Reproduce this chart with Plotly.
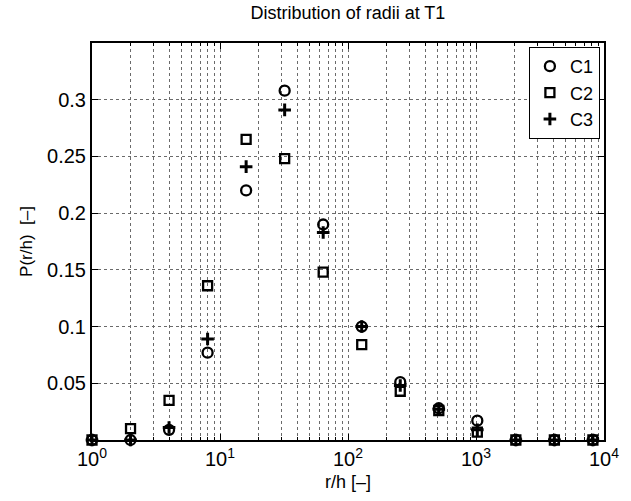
import plotly.graph_objects as go

r_h = [1, 2, 4, 8, 16, 32, 64, 128, 256, 512, 1024, 2048, 4096, 8192]
c1 = [0, 0, 0.009, 0.077, 0.220, 0.308, 0.190, 0.100, 0.051, 0.028, 0.017, 0, 0, 0]
c2 = [0, 0.010, 0.035, 0.136, 0.265, 0.248, 0.148, 0.084, 0.043, 0.026, 0.007, 0, 0, 0]
c3 = [0, 0, 0.011, 0.089, 0.241, 0.291, 0.183, 0.100, 0.048, 0.027, 0.009, 0, 0, 0]

x_tickvals = [1, 10, 100, 1000, 10000]
x_ticktext = ["10<sup>0</sup>", "10<sup>1</sup>", "10<sup>2</sup>", "10<sup>3</sup>", "10<sup>4</sup>"]
x_minorvals = [m * d for d in [1, 10, 100, 1000] for m in range(2, 10)]
y_tickvals = [0.05, 0.1, 0.15, 0.2, 0.25, 0.3]
y_ticktext = ["0.05", "0.1", "0.15", "0.2", "0.25", "0.3"]

FONT = "Liberation Sans, Arial, Helvetica, sans-serif"

fig = go.Figure()
fig.add_trace(go.Scatter(x=r_h, y=c1, mode="markers", name="C1", cliponaxis=False,
                         marker=dict(symbol="circle-open", size=10, color="black",
                                     line=dict(width=2.3, color="black"))))
fig.add_trace(go.Scatter(x=r_h, y=c2, mode="markers", name="C2", cliponaxis=False,
                         marker=dict(symbol="square-open", size=9, color="black",
                                     line=dict(width=2.3, color="black"))))
fig.add_trace(go.Scatter(x=r_h, y=c3, mode="markers", name="C3", cliponaxis=False,
                         marker=dict(symbol="cross-thin-open", size=9, color="black",
                                     line=dict(width=3, color="black"))))

fig.update_layout(
    width=631, height=501,
    margin=dict(l=92, r=26, t=43, b=59),
    paper_bgcolor="white", plot_bgcolor="white",
    font=dict(family=FONT, color="black", size=20),
    title=dict(text="Distribution of radii at T1", xref="paper", x=0.5, xanchor="center",
               yref="container", y=0.974, yanchor="middle", font=dict(size=18, family=FONT)),
    showlegend=True,
    legend=dict(x=0.992, y=0.99, xanchor="right", yanchor="top", bgcolor="white",
                bordercolor="black", borderwidth=1, font=dict(size=18, family=FONT),
                itemwidth=30, tracegroupgap=0),
)

grid_color = "#6a6a6a"
fig.update_xaxes(
    type="log", range=[0, 4],
    tickvals=x_tickvals, ticktext=x_ticktext,
    ticks="inside", ticklen=6, tickwidth=1, tickcolor="black",
    showline=True, linecolor="black", linewidth=2, mirror="ticks",
    showgrid=True, gridcolor=grid_color, griddash="dot", gridwidth=1,
    minor=dict(tickmode="array", tickvals=x_minorvals, ticks="inside", ticklen=3,
               tickcolor="black", showgrid=True, gridcolor=grid_color,
               griddash="dot", gridwidth=1),
    zeroline=False,
    title=dict(text="r/h [–]", standoff=6, font=dict(size=18, family=FONT)),
    tickfont=dict(size=20),
)
fig.update_yaxes(
    range=[0, 0.35],
    tickvals=y_tickvals, ticktext=y_ticktext,
    ticks="inside", ticklen=6, tickwidth=1, tickcolor="black",
    showline=True, linecolor="black", linewidth=2, mirror="ticks",
    showgrid=True, gridcolor=grid_color, griddash="dot", gridwidth=1,
    zeroline=False,
    title=dict(text="P(r/h)  [–]", standoff=10, font=dict(size=17, family=FONT)),
    tickfont=dict(size=20),
)

fig.write_html("out.html")
